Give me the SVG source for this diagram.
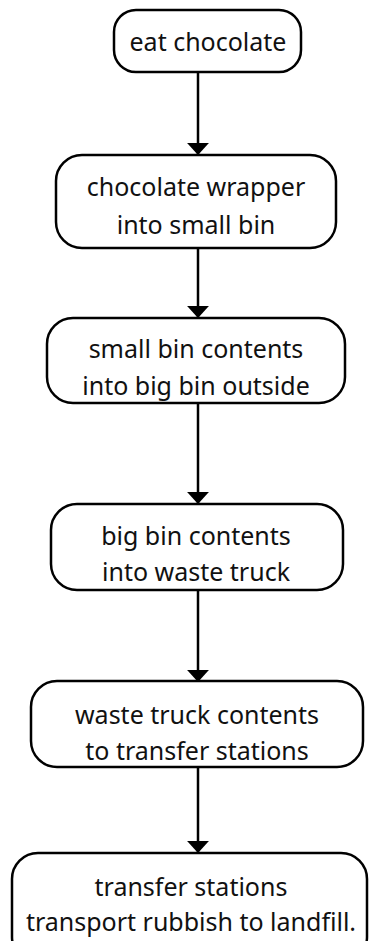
<svg xmlns="http://www.w3.org/2000/svg" width="371" height="941" viewBox="0 0 371 941">
  <style>
    .box { fill: #ffffff; stroke: #000000; stroke-width: 2.5; }
    .lbl { font-family: "Noto Sans", "Open Sans", sans-serif; font-size: 25px; fill: #111111; text-anchor: middle; }
    .link { stroke: #000000; stroke-width: 2.5; fill: none; marker-end: url(#head); }
  </style>
  <defs>
    <!-- solid triangular head, drawn pointing along the line direction -->
    <marker id="head" markerUnits="userSpaceOnUse" markerWidth="12" markerHeight="22" refX="11" refY="10" orient="auto" viewBox="0 0 11 20">
      <path d="M0,0 L11,10 L0,20 Z" fill="#000000"/>
    </marker>
  </defs>
  <rect width="371" height="941" fill="#ffffff"/>

  <g id="connectors">
    <line class="link" x1="198" y1="72" x2="198" y2="155"/>
    <line class="link" x1="198" y1="248" x2="198" y2="318"/>
    <line class="link" x1="198" y1="403" x2="198" y2="504"/>
    <line class="link" x1="198" y1="590" x2="198" y2="682"/>
    <line class="link" x1="198" y1="767" x2="198" y2="853"/>
  </g>

  <g id="eat-chocolate">
    <rect class="box" x="114" y="10" width="187" height="62" rx="22"/>
    <text class="lbl" x="208" y="51">eat chocolate</text>
  </g>

  <g id="wrapper-into-small-bin">
    <rect class="box" x="56" y="155" width="280" height="93" rx="26"/>
    <text class="lbl" x="196" y="196">chocolate wrapper</text>
    <text class="lbl" x="196" y="234">into small bin</text>
  </g>

  <g id="small-bin-to-big-bin">
    <rect class="box" x="47" y="318" width="298" height="85" rx="26"/>
    <text class="lbl" x="196" y="358">small bin contents</text>
    <text class="lbl" x="196" y="395">into big bin outside</text>
  </g>

  <g id="big-bin-to-truck">
    <rect class="box" x="51" y="504" width="292" height="86" rx="26"/>
    <text class="lbl" x="196" y="545">big bin contents</text>
    <text class="lbl" x="196" y="581">into waste truck</text>
  </g>

  <g id="truck-to-transfer">
    <rect class="box" x="31" y="681" width="332" height="86" rx="26"/>
    <text class="lbl" x="197" y="724">waste truck contents</text>
    <text class="lbl" x="197" y="760">to transfer stations</text>
  </g>

  <g id="transfer-to-landfill">
    <rect class="box" x="12" y="853" width="355" height="110" rx="26"/>
    <text class="lbl" x="191" y="896">transfer stations</text>
    <text class="lbl" x="191" y="931">transport rubbish to landfill.</text>
  </g>
</svg>
